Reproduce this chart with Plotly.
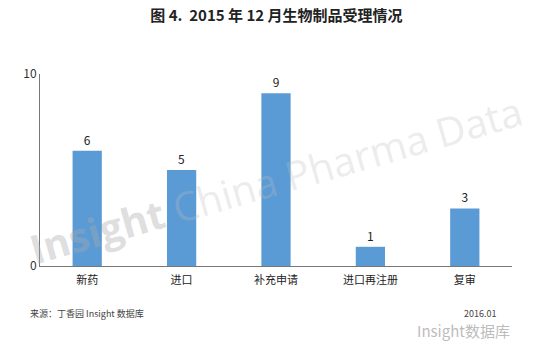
import plotly.graph_objects as go

categories = ["新药", "进口", "补充申请", "进口再注册", "复审"]
values = [6, 5, 9, 1, 3]
ytick_vals = [0, 10]
ytick_text = ["0", "10"]

fig = go.Figure()
fig.add_trace(go.Bar(
    x=categories, y=values,
    marker=dict(color="#5b9bd5", line=dict(width=0)),
    text=[str(v) for v in values], textposition="outside",
    textfont=dict(size=12, color="#222", family="Noto Sans CJK SC"),
    cliponaxis=False,
))

fig.update_layout(
    width=542, height=349,
    margin=dict(l=40, r=30, t=74, b=83),
    paper_bgcolor="white", plot_bgcolor="white",
    bargap=0.69,
    showlegend=False,
    font=dict(family="Noto Sans CJK SC", color="#222"),
    title=dict(text="<b>图 4.  2015 年 12 月生物制品受理情况</b>", x=0.51, xanchor="center",
               y=0.955, yanchor="middle", font=dict(size=15, color="#222")),
    xaxis=dict(showline=True, linecolor="#777", linewidth=1, ticks="outside", ticklen=4,
               tickcolor="rgba(0,0,0,0)",
               tickfont=dict(size=11, color="#222"), showgrid=False, zeroline=False),
    yaxis=dict(range=[0, 10], showline=True, linecolor="#777", linewidth=1,
               tickvals=ytick_vals, ticktext=ytick_text, ticks="", showgrid=False,
               zeroline=False, tickfont=dict(size=12, color="#333")),
)

# watermark
fig.add_annotation(xref="paper", yref="paper", x=0.50, y=0.45,
                   text="<b><span style='color:rgba(170,170,170,0.4)'>Insight</span></b> "
                        "<span style='color:rgba(190,190,190,0.3)'>China Pharma Data</span>",
                   showarrow=False,
                   textangle=-16, font=dict(size=40, family="Open Sans"))

fig.add_annotation(xref="paper", yref="paper", x=-0.026, y=-0.245, xanchor="left", yanchor="middle",
                   text="来源：丁香园 Insight 数据库", showarrow=False,
                   font=dict(size=9, color="#444"))
fig.add_annotation(xref="paper", yref="paper", x=0.97, y=-0.245, xanchor="right", yanchor="middle",
                   text="2016.01", showarrow=False, font=dict(size=9, color="#444"))
fig.add_annotation(xref="paper", yref="paper", x=1.0, y=-0.335, xanchor="right", yanchor="middle",
                   text="Insight数据库", showarrow=False, font=dict(size=15, color="rgba(170,170,170,0.8)"))

fig.write_html("out.html")
